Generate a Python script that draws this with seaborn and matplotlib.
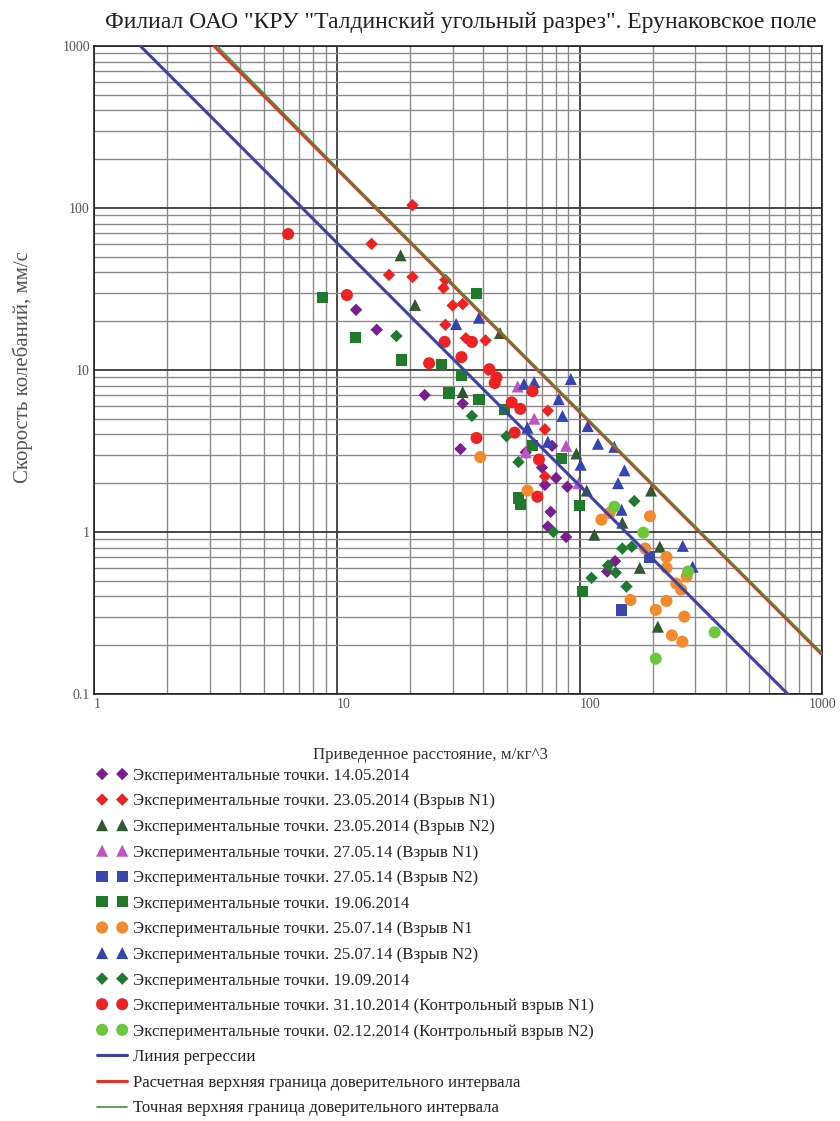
"""
Скорость колебаний vs приведенное расстояние (log-log), Ерунаковское поле.
"""

import matplotlib
matplotlib.use("Agg")
import matplotlib.pyplot as plt
from matplotlib.ticker import LogLocator, FuncFormatter, NullFormatter
import seaborn as sns

TITLE = 'Филиал ОАО "КРУ "Талдинский угольный разрез". Ерунаковское поле'
XLABEL = "Приведенное расстояние, м/кг^3"
YLABEL = "Скорость колебаний, мм/с"

x_ticks = [1, 10, 100, 1000]
y_ticks = [0.1, 1, 10, 100, 1000]

# --- экспериментальные точки (x = приведенное расстояние, y = скорость) ---
x_1405 = [12, 14.6, 23, 33, 32.3, 60, 70, 72, 77, 80, 89, 76, 74, 88, 140, 130]
y_1405 = [23.5, 17.7, 7.0, 6.2, 3.25, 3.1, 2.5, 1.95, 3.4, 2.15, 1.9, 1.33, 1.08, 0.93, 0.66, 0.57]

x_2305_1 = [20.5, 13.9, 16.4, 20.5, 28, 27.5, 30, 33, 28, 34, 41, 42, 74, 72, 72]
y_2305_1 = [104, 60, 38.6, 37.5, 36, 32, 25, 25.5, 19, 15.7, 15.2, 10, 5.6, 4.3, 2.2]

x_2305_2 = [18.3, 21, 47, 33, 97, 107, 197, 150, 115, 214, 177, 210]
y_2305_2 = [51, 25.2, 16.9, 7.3, 3.05, 1.8, 1.8, 1.14, 0.96, 0.81, 0.6, 0.26]

x_2705_1 = [55.6, 65, 60, 88, 99]
y_2705_1 = [7.9, 5.0, 3.1, 3.4, 2.0]

x_2705_2 = [149, 194]
y_2705_2 = [0.33, 0.70]

x_1906 = [8.7, 11.9, 18.5, 27, 32.6, 29, 37.5, 38.5, 49, 64, 84, 56, 57, 100, 103]
y_1906 = [28, 15.8, 11.5, 10.8, 9.3, 7.2, 29.5, 6.6, 5.7, 3.4, 2.85, 1.62, 1.48, 1.45, 0.43]

x_2507_1 = [39, 61, 123, 133, 195, 186, 228, 228, 276, 250, 262, 162, 206, 228, 270, 240, 265]
y_2507_1 = [2.9, 1.8, 1.19, 1.31, 1.25, 0.79, 0.70, 0.60, 0.53, 0.48, 0.44, 0.38, 0.33, 0.375, 0.30, 0.23, 0.21]

x_2507_2 = [31, 38.5, 59, 65, 92, 82, 85, 61, 74, 108, 119, 139, 101, 153, 144, 149, 266, 292]
y_2507_2 = [19.2, 21, 8.2, 8.4, 8.8, 6.6, 5.2, 4.4, 3.6, 4.5, 3.5, 3.35, 2.6, 2.4, 2.0, 1.37, 0.82, 0.61]

x_1909 = [17.6, 36, 50, 56, 78, 168, 164, 150, 131, 141, 112, 156]
y_1909 = [16.2, 5.2, 3.9, 2.7, 1.0, 1.55, 0.81, 0.79, 0.62, 0.56, 0.52, 0.46]

x_3110 = [6.3, 11, 24, 27.8, 36, 32.6, 42.5, 45.5, 44.7, 64, 57, 52.5, 54, 37.6, 68, 67]
y_3110 = [69, 29, 11, 14.9, 14.9, 12, 10.1, 9.0, 8.3, 7.4, 5.75, 6.3, 4.1, 3.8, 2.8, 1.65]

x_0212 = [139, 183, 280, 360, 206]
y_0212 = [1.43, 0.99, 0.57, 0.24, 0.165]

# --- линии ---
reg_x = [1, 1000]
reg_y = [1930, 0.061]
calc_x = [1, 1000]
calc_y = [5500, 0.174]
exact_x = [1, 10, 100, 1000]
exact_y = [5900, 178, 5.6, 0.178]

series = [
    (x_1405, y_1405, "#7a1f8e", "D", 40, "Экспериментальные точки. 14.05.2014"),
    (x_2305_1, y_2305_1, "#ee2222", "D", 40, "Экспериментальные точки. 23.05.2014 (Взрыв N1)"),
    (x_2305_2, y_2305_2, "#2f5a2f", "^", 75, "Экспериментальные точки. 23.05.2014 (Взрыв N2)"),
    (x_2705_1, y_2705_1, "#c055c0", "^", 75, "Экспериментальные точки. 27.05.14 (Взрыв N1)"),
    (x_2705_2, y_2705_2, "#3a48b0", "s", 65, "Экспериментальные точки. 27.05.14 (Взрыв N2)"),
    (x_1906, y_1906, "#1f7a2a", "s", 65, "Экспериментальные точки. 19.06.2014"),
    (x_2507_1, y_2507_1, "#f58a2c", "o", 75, "Экспериментальные точки. 25.07.14 (Взрыв N1"),
    (x_2507_2, y_2507_2, "#3344b4", "^", 75, "Экспериментальные точки. 25.07.14 (Взрыв N2)"),
    (x_1909, y_1909, "#1e7a2e", "D", 40, "Экспериментальные точки. 19.09.2014"),
    (x_3110, y_3110, "#ee2222", "o", 75, "Экспериментальные точки. 31.10.2014 (Контрольный взрыв N1)"),
    (x_0212, y_0212, "#6cc83a", "o", 75, "Экспериментальные точки. 02.12.2014 (Контрольный взрыв N2)"),
]


def main():
    sns.set_theme(style="white")
    plt.rcParams["font.family"] = ["Liberation Serif", "DejaVu Serif"]

    fig = plt.figure(figsize=(8.4, 11.21), dpi=100)
    ax = fig.add_axes([0.112, 0.381, 0.867, 0.578])
    ax.set_xscale("log")
    ax.set_yscale("log")

    for xs, ys, color, marker, size, label in series:
        sns.scatterplot(x=xs, y=ys, color=color, marker=marker, s=size,
                        edgecolor="none", label=label, ax=ax, zorder=3)

    sns.lineplot(x=reg_x, y=reg_y, color="#3c42a8", lw=2.2, ax=ax,
                 label="Линия регрессии", zorder=4)
    sns.lineplot(x=calc_x, y=calc_y, color="#e8302a", lw=2.2, ax=ax,
                 label="Расчетная верхняя граница доверительного интервала", zorder=4)
    sns.lineplot(x=exact_x, y=exact_y, color="#3a9a3a", lw=1.2, ax=ax,
                 label="Точная верхняя граница доверительного интервала", zorder=4)

    ax.set_xlim(1, 1000)
    ax.set_ylim(0.1, 1000)

    fmt = FuncFormatter(lambda v, _: f"{v:g}")
    ax.set_xticks(x_ticks)
    ax.set_yticks(y_ticks)
    for axis in (ax.xaxis, ax.yaxis):
        axis.set_minor_locator(LogLocator(base=10, subs=range(2, 10), numticks=20))
        axis.set_major_formatter(fmt)
        axis.set_minor_formatter(NullFormatter())

    ax.grid(which="major", color="#3a3a3a", lw=1.3)
    ax.grid(which="minor", color="#8c8c8c", lw=1.0)
    ax.set_axisbelow(True)
    ax.tick_params(which="both", length=0, labelsize=10, colors="#555555", pad=3)
    for t in ax.get_xticklabels():
        t.set_ha("left")
    ax.get_xticklabels()[-1].set_ha("center")
    for sp in ax.spines.values():
        sp.set_color("#222222")
        sp.set_linewidth(1.2)

    ax.set_xlabel("")
    ax.set_ylabel("")
    fig.text(0.549, 0.980, TITLE, ha="center", va="center", fontsize=17, color="#222222")
    fig.text(0.513, 0.3265, XLABEL, ha="center", va="center", fontsize=12.2, color="#333333")
    fig.text(0.027, 0.673, YLABEL, ha="center", va="center", rotation=90,
             fontsize=15, color="#555555")

    handles, labels = ax.get_legend_handles_labels()
    ax.get_legend().remove()
    fig.legend(handles, labels, loc="upper left", bbox_to_anchor=(0.1155, 0.315),
               frameon=False, scatterpoints=2, scatteryoffsets=[0.5],
               handlelength=1.8, handletextpad=0.36,
               labelspacing=0.57, fontsize=12.1, borderaxespad=0, borderpad=0)

    fig.savefig("out.png", dpi=100, facecolor="white")


if __name__ == "__main__":
    main()
